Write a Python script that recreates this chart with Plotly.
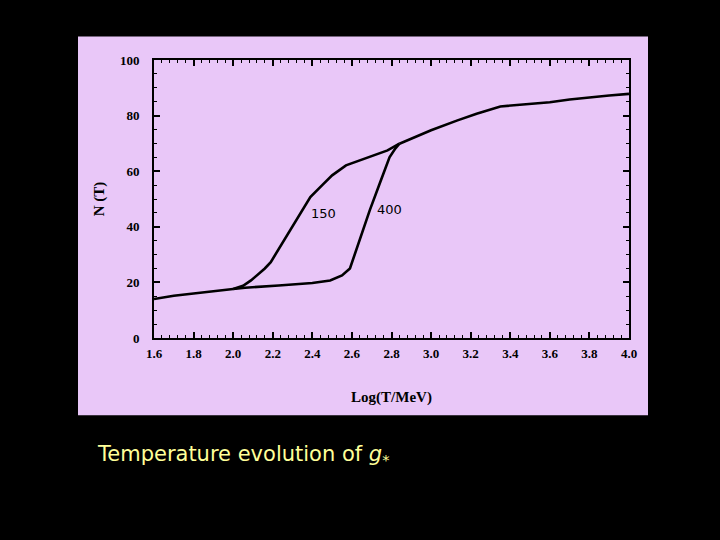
import plotly.graph_objects as go

# Common low-T branch
low_x = [1.60, 1.65, 1.70, 1.80, 1.90, 2.00]
low_y = [14.0, 14.6, 15.2, 16.0, 16.9, 17.6]

# 150 MeV transition branch
c150_x = [2.00, 2.05, 2.09, 2.16, 2.19, 2.30, 2.39, 2.45, 2.50, 2.57, 2.68, 2.78, 2.84]
c150_y = [17.6, 18.8, 20.7, 25.0, 27.3, 40.0, 50.7, 55.0, 58.5, 62.1, 64.8, 67.5, 69.9]

# 400 MeV transition branch
c400_x = [2.00, 2.06, 2.23, 2.40, 2.49, 2.55, 2.59, 2.64, 2.69, 2.74, 2.79, 2.82, 2.84]
c400_y = [17.6, 18.1, 18.9, 19.8, 20.7, 22.5, 25.0, 35.5, 45.9, 55.5, 65.0, 68.2, 69.9]

# Common high-T branch
high_x = [2.84, 3.00, 3.13, 3.23, 3.35, 3.45, 3.60, 3.70, 3.80, 3.90, 4.00]
high_y = [69.9, 74.7, 78.2, 80.7, 83.3, 84.0, 84.8, 85.8, 86.6, 87.2, 87.8]

x_ticks = [1.6, 1.8, 2.0, 2.2, 2.4, 2.6, 2.8, 3.0, 3.2, 3.4, 3.6, 3.8, 4.0]
x_labels = ["1.6", "1.8", "2.0", "2.2", "2.4", "2.6", "2.8", "3.0", "3.2", "3.4", "3.6", "3.8", "4.0"]
y_ticks = [0, 20, 40, 60, 80, 100]

labels = [("150", 2.455, 44.8), ("400", 2.79, 46.2)]

line = dict(color="black", width=2.6)
fig = go.Figure()
for xs, ys in [(low_x, low_y), (c150_x, c150_y), (c400_x, c400_y), (high_x, high_y)]:
    fig.add_trace(go.Scatter(x=xs, y=ys, mode="lines", line=line, showlegend=False, hoverinfo="skip"))

for txt, lx, ly in labels:
    fig.add_annotation(x=lx, y=ly, text=txt, showarrow=False,
                       font=dict(family="DejaVu Sans", size=13, color="black"))

L, R, T, B = 154, 629, 59.5, 337.7
W, H = 720, 540
pw, ph = R - L, B - T

fig.add_shape(type="rect", xref="paper", yref="paper", layer="below",
              x0=(78 - L) / pw, x1=(648 - L) / pw,
              y0=(B - 415) / ph, y1=(B - 36) / ph,
              fillcolor="#E9C7F8", line=dict(width=0))

fig.add_annotation(xref="paper", yref="paper", x=(95 - L) / pw, y=(B - 455) / ph,
                   xanchor="left", yanchor="middle", showarrow=False,
                   text="Temperature evolution of <i>g</i><sub>*</sub>",
                   font=dict(family="DejaVu Sans", size=21, color="#FFFF99"))

tickfont = dict(family="Liberation Serif", size=13, color="black", weight="bold")
fig.update_xaxes(range=[1.6, 4.0], tickvals=x_ticks, ticktext=x_labels,
                 ticks="inside", ticklen=6, tickwidth=1.5, tickcolor="black",
                 minor=dict(ticks="inside", dtick=0.04, ticklen=3, tickcolor="black", tickwidth=1),
                 showline=True, linecolor="black", linewidth=2, mirror="allticks",
                 showgrid=False, zeroline=False, tickfont=tickfont, ticklabelstandoff=2,
                 title=dict(text="Log(T/MeV)", font=dict(family="Liberation Serif", size=15,
                            color="black", weight="bold"), standoff=32))
fig.update_yaxes(range=[0, 100], tickvals=y_ticks,
                 ticks="inside", ticklen=6, tickwidth=1.5, tickcolor="black",
                 minor=dict(ticks="inside", dtick=5, ticklen=3, tickcolor="black", tickwidth=1),
                 showline=True, linecolor="black", linewidth=2, mirror="allticks",
                 showgrid=False, zeroline=False, tickfont=tickfont, ticklabelstandoff=10,
                 title=dict(text="N (T)", font=dict(family="Liberation Serif", size=15,
                            color="black", weight="bold"), standoff=12))

fig.update_layout(width=W, height=H, paper_bgcolor="black", plot_bgcolor="white",
                  margin=dict(l=L, r=W - R, t=T, b=H - B, autoexpand=False))

fig.write_html("out.html")
